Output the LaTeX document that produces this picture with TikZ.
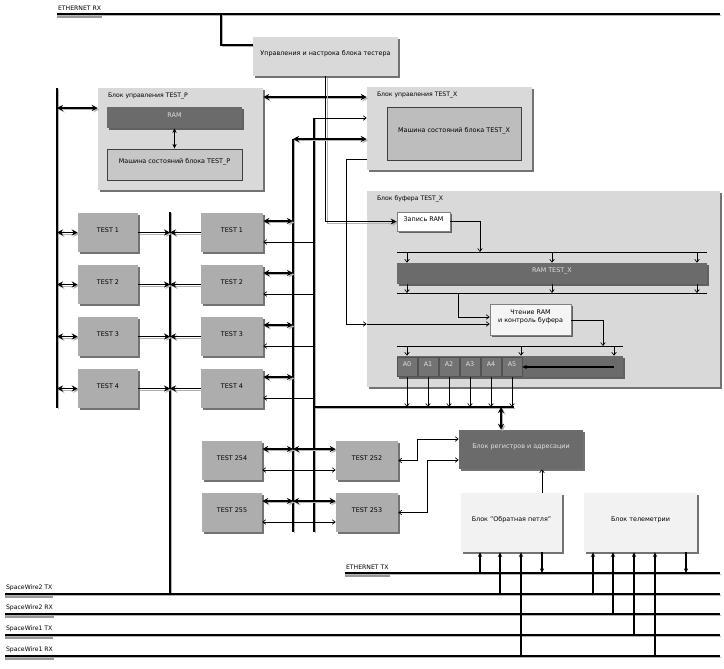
\documentclass[tikz,border=0pt]{standalone}
\usepackage{fontspec}
\setmainfont{DejaVu Sans}
\usetikzlibrary{arrows.meta,shadows,fit,calc}
\begin{document}
\begin{tikzpicture}[x=0.75pt,y=-0.75pt, font=\fontsize{4.8}{5.8}\selectfont,
  box/.style={inner sep=0pt, align=center},
  shd/.style={drop shadow={shadow xshift=1.6pt,shadow yshift=-1.6pt,fill=black,opacity=0.55}},
  lt/.style={box, fill=black!15, shd},
  tbox/.style={box, fill=black!32, shd},
  dk/.style={box, fill=black!58, text=black!12, shd},
  cellbox/.style={box, fill=black!55, draw=black!68, line width=0.4pt, text=black!12},
  inn/.style={box, fill=black!22, draw=black!75, line width=0.7pt},
  wh/.style={box, fill=white, draw=black!50, line width=0.5pt, shd},
  pale/.style={box, fill=black!5, shd},
  blkcap/.style={anchor=north west, inner sep=0pt, font=\fontsize{4.6}{5.5}\selectfont},
  buslab/.style={anchor=south west, inner sep=0.6pt, font=\fontsize{4.6}{5.5}\selectfont},
  lshadow/.style={preaction={draw=black!30, transform canvas={xshift=1.1pt,yshift=-1.1pt}}},
  bus/.style={line width=1.6pt, lshadow},
  thk/.style={line width=1.3pt, lshadow, >={Stealth[length=4.5pt,width=4.5pt]}},
  med/.style={line width=0.8pt, >={Stealth[length=3.5pt,width=3.2pt]}},
  thn/.style={line width=0.5pt, >={Straight Barb[length=2.2pt,width=3.4pt]}},
  lsh/.style={fill=black!40}
]
\useasboundingbox (0,0) rectangle (724,668);

% ---------- top ----------
\node[buslab] (erxl) at (57,12) {ETHERNET RX};
\coordinate (erxA) at (57,14); \coordinate (erxB) at (720,14);
\fill[lsh] (erxl.south west |- 0,14.5) rectangle (erxl.south east |- 0,18);
\draw[bus] (erxA) -- (erxB);
\node[lt, fit={(253,37) (398,76)}] (T0) {Управления и настрока блока тестера};
\coordinate (e1) at (221,14);
\draw[thk] (e1) |- (T0.west |- 0,45);

% ---------- TEST_P block ----------
\node[lt, fit={(98,88) (263,190)}] (P) {};
\node[blkcap] (Pc) at ($(P.north west)+(10,5)$) {Блок управления TEST\_P};
\node[dk, fit={(107,107) (242,128)}] (RP) {RAM};
\node[inn, fit={(107,149) (242,180)}] (MP) {Машина состояний блока TEST\_P};
\draw[med,<->] (RP.south) -- (MP.north);

% ---------- TEST_X control block ----------
\node[lt, fit={(367,87) (532,170)}] (X) {};
\node[blkcap] (Xc) at ($(X.north west)+(10,5)$) {Блок управления TEST\_X};
\node[inn, fill=black!26, fit={(387,107) (521,160)}] (MX) {Машина состояний блока TEST\_X};

% ---------- buffer block ----------
\node[lt, fit={(367,191) (720,387)}] (B) {};
\node[blkcap] (Bc) at ($(B.north west)+(10,5)$) {Блок буфера TEST\_X};
\node[wh, fit={(397,212) (450,231)}] (WR) {Запись RAM};
\coordinate (b1A) at (397,252); \coordinate (b1B) at (707,252);
\coordinate (b2A) at (397,293); \coordinate (b2B) at (707,293);
\coordinate (b3A) at (397,346); \coordinate (b3B) at (623,346);
\draw[line width=0.6pt] (b1A) -- (b1B);
\draw[line width=0.6pt] (b2A) -- (b2B);
\draw[line width=0.6pt] (b3A) -- (b3B);
\node[dk, fit={(397,263) (707,284)}] (RAMX) {RAM TEST\_X};
\node[wh, fill=black!4, fit={(490,304) (571,335)}] (RD) {Чтение RAM\\и контроль буфера};
\node[dk, fit={(397,356) (623,377)}] (REG) {};
\draw[thn,->] (WR.east) -| (480,0 |- b1A);
\foreach \xx in {407,552,697} {
  \draw[thn,->] (\xx,0 |- b1A) -- (\xx,0 |- RAMX.north);
  \draw[thn,->] (\xx,0 |- RAMX.south) -- (\xx,0 |- b2A);
}
\draw[thn,->] (458,0 |- b2A) |- (RD.west |- 0,317);
\draw[thn,->] (RD.east |- 0,320) -| (603,0 |- b3A);
\foreach \xx in {407,521,614} \draw[thn,->] (\xx,0 |- b3A) -- (\xx,0 |- REG.north);
\coordinate (dbA) at (314,407); \coordinate (dbB) at (514,407);
\foreach \i in {0,...,5} {
  \pgfmathsetmacro\xa{397+21*\i}
  \pgfmathsetmacro\xbb{\xa+20}
  \node[cellbox, fit={(\xa,357) (\xbb,376)}] (A\i) {A\i};
  \draw[thn,->] (A\i.south |- REG.south) -- (A\i.south |- dbA);
}
\coordinate (rg) at (614,367);
\draw[med,->] (rg) -- (A5.east |- rg);

% ---------- buses / verticals ----------
\draw[thk,<->] (P.east |- 0,97) -- (X.west |- 0,97);
\draw[thk,->] (T0.south) |- (WR.west);
\coordinate (lbA) at (57,88); \coordinate (lbB) at (57,408);
\draw[bus] (lbA) -- (lbB);
\draw[thk,<->] (lbA |- 0,108) -- (P.west |- 0,108);
\coordinate (v293t) at (293,139); \coordinate (v293b) at (293,532);
\coordinate (v314t) at (314,118); \coordinate (v314b) at (314,532);
\draw[thk] (v293t) -- (v293b);
\draw[thk] (v314t) -- (v314b);
\draw[thk,<->] (v293t) -- (X.west |- v293t);
\draw[thn,->] (v314t) -- (X.west |- v314t);
\coordinate (c346) at (346,324);
\draw[thn] (X.west |- 0,159) -| (c346);
\draw[thn,->] (c346) -- (B.west |- c346);
\draw[thn,->] (B.west |- c346) -- (RD.west |- c346);
\draw[thk] (dbA) -- (dbB);

\coordinate (mbA) at (170,212); \coordinate (mbB) at (170,594);
\draw[bus] (mbA) -- (mbB);

% ---------- TEST blocks ----------
\foreach \i in {1,...,4} {
  \pgfmathsetmacro\yt{213+52*(\i-1)}
  \pgfmathsetmacro\yb{\yt+39}
  \node[tbox, fit={(78,\yt) (138,\yb)}] (L\i) {TEST \i};
  \node[tbox, fit={(201,\yt) (263,\yb)}] (R\i) {TEST \i};
}
\foreach \i in {1,...,4} {
  \draw[thk,<->] (lbA |- L\i.west) -- (L\i.west);
  \draw[thk,->] (L\i.east) -- (mbA |- L\i.east);
  \draw[thk,->] (R\i.west) -- (mbA |- R\i.west);
  \draw[thk,<->] ($(R\i.east)+(0,-11.5)$) -- ($(v293t |- R\i.east)+(0,-11.5)$);
  \draw[thn,->] ($(v314t |- R\i.east)+(0,9.5)$) -- ($(R\i.east)+(0,9.5)$);
}
\node[tbox, fit={(202,441) (262,480)}] (S254) {TEST 254};
\node[tbox, fit={(202,493) (262,532)}] (S255) {TEST 255};
\node[tbox, fit={(336,441) (398,480)}] (S252) {TEST 252};
\node[tbox, fit={(336,493) (398,532)}] (S253) {TEST 253};
\foreach \sa/\sb in {S254/S252, S255/S253} {
  \draw[thk,<->] ($(\sa.east)+(0,-11.5)$) -- ($(v293t |- \sa.east)+(0,-11.5)$);
  \draw[thk,<->] ($(v293t |- \sa.east)+(0,-11.5)$) -- ($(\sb.west)+(0,-11.5)$);
  \draw[thn,<->] ($(\sa.east)+(0,9.5)$) -- ($(\sb.west)+(0,9.5)$);
}

% ---------- registers / loop / telemetry ----------
\node[dk, fit={(459,430) (583,469)}] (RA) {Блок регистров и адресации};
\node[pale, fit={(461,493) (562,552)}] (OB) {Блок "Обратная петля"};
\node[pale, fit={(584,493) (697,552)}] (TM) {Блок телеметрии};
\draw[thk,<->] (501,0 |- dbA) -- (501,0 |- RA.north);
\draw[thn,<->] (S252.east) -- ++(19,0) |- (RA.west |- 0,439);
\draw[thn,<->] (S253.east) -- ++(29,0) |- (RA.west |- 0,460);
\draw[thn,->] (542,0 |- OB.north) -- (542,0 |- RA.south);

% ---------- bottom buses ----------
\node[buslab] (etxl) at (345,571) {ETHERNET TX};
\coordinate (etxA) at (345,573); \coordinate (etxB) at (720,573);
\fill[lsh] (etxl.south west |- 0,573.5) rectangle (etxl.south east |- 0,577);
\draw[bus] (etxA) -- (etxB);
\foreach \n/\nm/\yy in {s2t/SpaceWire2 TX/594, s2r/SpaceWire2 RX/614, s1t/SpaceWire1 TX/635, s1r/SpaceWire1 RX/656} {
  \node[buslab] (\n l) at (5,\yy-2) {\nm};
  \coordinate (\n A) at (5,\yy); \coordinate (\n B) at (720,\yy);
  \fill[lsh] (\n l.south west |- 0,\yy+0.5) rectangle (\n l.south east |- 0,\yy+4);
  \draw[bus] (\n A) -- (\n B);
}
\draw[med,->] (480,0 |- etxA) -- (480,0 |- OB.south);
\draw[med,->] (500,0 |- s2tA) -- (500,0 |- OB.south);
\draw[med,->] (521,0 |- s1rA) -- (521,0 |- OB.south);
\draw[med,->] (542,0 |- OB.south) -- (542,0 |- etxA);
\draw[med,->] (593,0 |- s2tA) -- (593,0 |- TM.south);
\draw[med,->] (613,0 |- s2rA) -- (613,0 |- TM.south);
\draw[med,->] (634,0 |- s1tA) -- (634,0 |- TM.south);
\draw[med,->] (655,0 |- s1rA) -- (655,0 |- TM.south);
\draw[med,->] (686,0 |- TM.south) -- (686,0 |- etxA);
\end{tikzpicture}
\end{document}
